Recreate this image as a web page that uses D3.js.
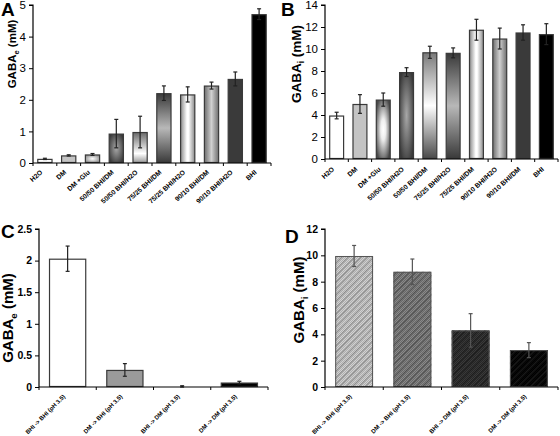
<!DOCTYPE html>
<html><head><meta charset="utf-8">
<script src="https://cdn.jsdelivr.net/npm/d3@7"></script>
<style>body{margin:0;background:#fff}svg{display:block;font-family:"Liberation Sans",Arial,sans-serif}</style>
</head><body>
<svg id="c" width="560" height="436"></svg>
<script>
// ---------- data ----------
const catsA = ["H2O","DM","DM +Glu","50/50 BHI/DM","50/50 BHI/H2O","75/25 BHI/DM","75/25 BHI/H2O","90/10 BHI/DM","90/10 BHI/H2O","BHI"];
const valsA = [0.13,0.24,0.27,0.93,0.98,2.21,2.17,2.45,2.66,4.71];
const errA  = [0.02,0.02,0.03,0.45,0.50,0.23,0.24,0.11,0.22,0.17];
const ticksA = [0,1,2,3,4,5];

const catsB = ["H2O","DM","DM +Glu","50/50 BHI/H2O","50/50 BHI/DM","75/25 BHI/H2O","75/25 BHI/DM","90/10 BHI/H2O","90/10 BHI/DM","BHI"];
const valsB = [3.95,5.0,5.4,7.9,9.7,9.65,11.75,10.95,11.5,11.35];
const errB  = [0.3,0.85,0.6,0.4,0.55,0.45,0.95,0.95,0.7,0.95];
const ticksB = [0,2,4,6,8,10,12,14];

const catsCD = ["BHI -> BHI (pH 3.5)","DM -> BHI (pH 3.5)","BHI -> DM (pH 3.5)","DM -> DM (pH 3.5)"];
const valsC = [2.03,0.27,0.01,0.07];
const errC  = [0.20,0.10,0.01,0.02];
const ticksC = [0,0.5,1,1.5,2,2.5];
const valsD = [9.95,8.75,4.3,2.8];
const errD  = [0.80,0.97,1.27,0.57];
const ticksD = [0,2,4,6,8,10,12];

// ---------- styles ----------
const fillsA = ["#fff","#c4c4c4","url(#radLight)","url(#radDark)","url(#vWhiteLow)","url(#vDark)","url(#hWhite)","url(#hGray)","#3a3a3a","#000"];
const fillsB = ["#fff","#c4c4c4","url(#radWhiteB)","url(#radDark)","url(#vWhiteMid)","url(#vDark)","url(#hWhite)","url(#hGray)","#3a3a3a","#000"];
const fillsC = ["#fff","#9a9a9a","#222","#000"];
const fillsD = [["#d2d2d2","#b0b0b0","#8c8c8c"],["#8a8a8a","#6a6a6a","#505050"],["#3a3a3a","#262626","#1c1c1c"],["#080808","#000","#1a1a1a"]];

const svg = d3.select("#c");
const defs = svg.append("defs");
function lin(id, horiz, stops){
  const g = defs.append("linearGradient").attr("id",id)
    .attr("x1",0).attr("y1",0).attr("x2",horiz?1:0).attr("y2",horiz?0:1);
  stops.forEach(s=>g.append("stop").attr("offset",s[0]).attr("stop-color",s[1]));
}
function rad(id, stops){
  const g = defs.append("radialGradient").attr("id",id).attr("cx",0.5).attr("cy",0.5).attr("r",0.6);
  stops.forEach(s=>g.append("stop").attr("offset",s[0]).attr("stop-color",s[1]));
}
lin("hWhite", true, [[0,"#8a8a8a"],[0.45,"#ffffff"],[0.55,"#ffffff"],[1,"#8a8a8a"]]);
lin("hGray", true, [[0,"#6e6e6e"],[0.5,"#d0d0d0"],[1,"#6e6e6e"]]);
lin("vDark", false, [[0,"#3a3a3a"],[0.5,"#b8b8b8"],[1,"#3a3a3a"]]);
lin("vWhiteLow", false, [[0,"#6a6a6a"],[0.7,"#ffffff"],[1,"#9a9a9a"]]);
lin("vWhiteMid", false, [[0,"#7a7a7a"],[0.5,"#ffffff"],[1,"#4a4a4a"]]);
rad("radLight", [[0,"#ffffff"],[1,"#8a8a8a"]]);
rad("radDark", [[0,"#a8a8a8"],[1,"#3a3a3a"]]);
rad("radWhiteB", [[0,"#ffffff"],[0.3,"#eeeeee"],[1,"#4a4a4a"]]);

fillsD.forEach((c,i)=>{
  const p = defs.append("pattern").attr("id","chk"+i).attr("width",2).attr("height",2).attr("patternUnits","userSpaceOnUse");
  p.append("rect").attr("width",2).attr("height",2).attr("fill",c[0]);
  p.append("rect").attr("width",1).attr("height",1).attr("fill",c[1]);
  p.append("rect").attr("x",1).attr("y",1).attr("width",1).attr("height",1).attr("fill",c[1]);
  const q = defs.append("pattern").attr("id","str"+i).attr("width",4.5).attr("height",4.5).attr("patternUnits","userSpaceOnUse").attr("patternTransform","rotate(45)");
  q.append("rect").attr("width",1.2).attr("height",4.5).attr("fill",c[2]);
});

function panel(o){
  const g = svg.append("g");
  const x = d3.scaleBand().domain(o.cats).range([o.x0,o.x1]).paddingInner(o.pad).paddingOuter(o.pad/2);
  const y = d3.scaleLinear().domain(o.dom).range([o.y0,o.y1]);
  const xb = d3.scaleBand().domain(o.cats).range([o.x0,o.x1]);
  // bars
  o.vals.forEach((v,i)=>{
    const c = o.cats[i];
    const bx = x(c), bw = x.bandwidth(), by = y(v), bh = y(0)-y(v);
    if(o.pattern){
      g.append("rect").attr("x",bx).attr("y",by).attr("width",bw).attr("height",bh).attr("fill","url(#chk"+i+")");
      g.append("rect").attr("x",bx).attr("y",by).attr("width",bw).attr("height",bh).attr("fill","url(#str"+i+")");
      g.append("rect").attr("x",bx+0.5).attr("y",by+0.5).attr("width",bw-1).attr("height",Math.max(0,bh-1)).attr("fill","none").attr("stroke","#555").attr("stroke-width",1);
    } else {
      g.append("rect").attr("x",bx+0.5).attr("y",by+0.5).attr("width",bw-1).attr("height",Math.max(0,bh-1))
        .attr("fill",o.fills[i]).attr("stroke","#3a3a3a").attr("stroke-width",1.2);
    }
    // error bar
    const cx = bx + bw/2, e = o.err[i];
    const ec = o.pattern ? "#555" : "#222";
    g.append("line").attr("x1",cx).attr("x2",cx).attr("y1",y(v+e)).attr("y2",y(v-e)).attr("stroke",ec).attr("stroke-width",1.2);
    [v+e,v-e].forEach(t=>g.append("line").attr("x1",cx-2).attr("x2",cx+2).attr("y1",y(t)).attr("y2",y(t)).attr("stroke",ec).attr("stroke-width",1.2));
  });
  // y axis
  const ya = d3.axisLeft(y).tickValues(o.ticks).tickSize(4).tickPadding(3).tickFormat(d=>d3.format("")(d));
  const yg = g.append("g").attr("transform",`translate(${o.x0},0)`).call(ya);
  yg.attr("font-size",o.tfs).attr("font-family","Liberation Sans, Arial, sans-serif");
  yg.select(".domain").attr("stroke","#000").attr("stroke-width",1.2).attr("d",`M-4,${o.y1}H0V${o.y0}`);
  yg.selectAll(".tick line").attr("stroke","#000").attr("stroke-width",1);
  yg.selectAll(".tick text").attr("font-size",o.tfs).attr("font-weight",o.tfw).attr("fill","#000");
  // x axis
  const xg = g.append("g").attr("transform",`translate(0,${o.y0})`);
  xg.append("line").attr("x1",o.x0).attr("x2",o.x1).attr("stroke","#000").attr("stroke-width",1.2);
  const bounds = o.cats.map(c=>xb(c)).concat([o.x1]);
  bounds.forEach(b=>xg.append("line").attr("x1",b).attr("x2",b).attr("y1",0).attr("y2",3).attr("stroke","#000").attr("stroke-width",1));
  o.cats.forEach(c=>{
    const lx = xb(c)+xb.bandwidth()/2 + o.ldx, ly = o.ldy;
    xg.append("text").attr("transform",`translate(${lx},${ly}) rotate(${o.ang})`).attr("text-anchor","end")
      .attr("font-size",o.lfs).attr("font-weight","bold").attr("fill","#000").text(c);
  });
  // y label
  const t = g.append("text").attr("transform",`translate(${o.ylx},${o.yly}) rotate(-90)`).attr("text-anchor","middle")
    .attr("font-size",o.yfs).attr("font-weight","bold").attr("fill","#000");
  t.append("tspan").text("GABA");
  t.append("tspan").attr("font-size",o.yfs*0.65).attr("dy",o.yfs*0.25).text(o.sub);
  t.append("tspan").attr("dy",-o.yfs*0.25).text(" (mM)");
  // letter
  g.append("text").attr("x",o.lx).attr("y",o.ly).attr("font-size",19).attr("font-weight","bold").attr("fill","#000").text(o.letter);
}

panel({cats:catsA,vals:valsA,err:errA,ticks:ticksA,dom:[0,5],x0:33,x1:271,y0:163,y1:5,pad:0.36,fills:fillsA,
  tfs:11.5,tfw:"normal",lfs:6.8,ldx:-2,ldy:10,ang:-42,ylx:16,yly:54,yfs:11.5,sub:"e",letter:"A",lx:1,ly:16});
panel({cats:catsB,vals:valsB,err:errB,ticks:ticksB,dom:[0,14],x0:325,x1:558,y0:159,y1:5,pad:0.36,fills:fillsB,
  tfs:11.5,tfw:"normal",lfs:6.8,ldx:-2,ldy:11,ang:-42,ylx:301,yly:64,yfs:13.5,sub:"i",letter:"B",lx:281,ly:16});
panel({cats:catsCD,vals:valsC,err:errC,ticks:ticksC,dom:[0,2.5],x0:39,x1:268,y0:387,y1:229,pad:0.35,fills:fillsC,
  tfs:10.5,tfw:"bold",lfs:6,ldx:-2,ldy:10,ang:-45,ylx:13,yly:318,yfs:15,sub:"e",letter:"C",lx:1,ly:238});
panel({cats:catsCD,vals:valsD,err:errD,ticks:ticksD,dom:[0,12],x0:325,x1:558,y0:387,y1:229,pad:0.35,pattern:true,
  tfs:10.5,tfw:"bold",lfs:6,ldx:-2,ldy:10,ang:-45,ylx:304,yly:300,yfs:15,sub:"i",letter:"D",lx:285,ly:243});
</script>
</body></html>
